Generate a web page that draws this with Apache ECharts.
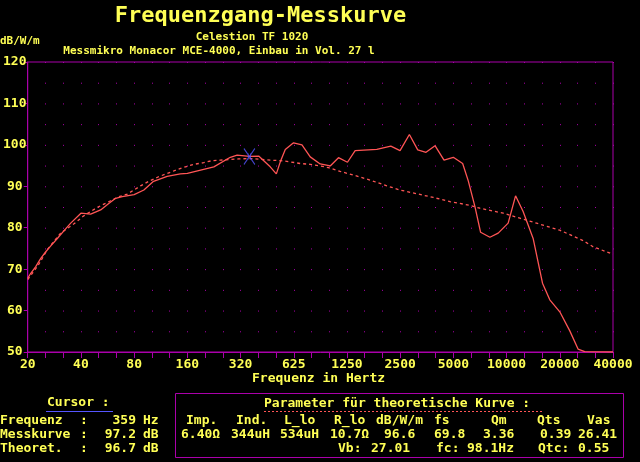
<!DOCTYPE html>
<html><head><meta charset="utf-8">
<script src="https://cdn.jsdelivr.net/npm/echarts@6/dist/echarts.min.js"></script>
<style>html,body{margin:0;padding:0;background:#000;}#c{width:640px;height:462px;}</style>
</head><body><div id="c"></div>
<script>
// ---- data ----
const measFreq = [20, 20.8, 22.2, 23.7, 25.3, 27, 29.4, 32.1, 35, 40, 45.4, 51.7, 57, 62.8, 68.5, 80, 90.8, 103, 123, 146, 160, 226, 280, 306, 359, 405, 471, 510, 537, 573, 638, 712, 793, 903, 1029, 1146, 1288, 1424, 1888, 2266, 2556, 2886, 3218, 3585, 4030, 4532, 5115, 5777, 6216, 6780, 7300, 8240, 9180, 10450, 11510, 12700, 14470, 16350, 17980, 20480, 23330, 25980, 28340, 40960];
const measDb = [67.8, 69.0, 70.6, 72.6, 74.2, 75.6, 77.4, 79.3, 81.1, 83.5, 83.3, 84.3, 85.7, 87.1, 87.5, 88.0, 89.1, 91.2, 92.4, 93.0, 93.1, 94.7, 97.0, 97.5, 97.2, 97.3, 94.7, 93.0, 95.9, 98.9, 100.5, 100.0, 97.1, 95.4, 94.9, 96.9, 95.8, 98.6, 98.9, 99.7, 98.6, 102.5, 98.8, 98.2, 99.8, 96.3, 97.0, 95.5, 91.3, 85.1, 78.9, 77.7, 78.7, 81.1, 87.7, 83.9, 77.4, 66.6, 62.6, 59.7, 55.1, 50.7, 50.1, 50.0];
const theoFreq = [20, 22.9, 25.8, 30.7, 36.7, 41.3, 49, 58.9, 65.6, 73.1, 87, 97.8, 110, 123, 140, 156, 174, 198, 221, 246, 280, 312, 364, 471, 537, 611, 696, 793, 903, 1006, 1171, 1393, 1730, 2151, 2556, 3176, 3943, 4898, 6352, 7236, 9796, 12180, 15130, 20480, 27720, 31580, 40960];
const theoDb = [67.5, 70.9, 74.7, 78.7, 81.0, 82.8, 84.8, 86.5, 87.5, 88.1, 90.1, 91.3, 92.3, 93.1, 94.0, 94.7, 95.3, 95.7, 96.2, 96.3, 96.5, 96.6, 96.7, 96.3, 96.2, 95.9, 95.5, 95.3, 94.9, 94.5, 93.6, 92.7, 91.5, 90.1, 89.1, 88.2, 87.3, 86.3, 85.4, 84.7, 83.5, 82.3, 81.1, 79.4, 76.9, 75.4, 73.6];
const xTickLabels = ['20', '40', '80', '160', '320', '625', '1250', '2500', '5000', '10000', '20000', '40000'];
const cursorPoint = [359, 97.2];
const cursorRows = [['Frequenz', '359', 'Hz'], ['Messkurve', '97.2', 'dB'], ['Theoret.', '96.7', 'dB']];
const paramNames = ['Imp.', 'Ind.', 'L_lo', 'R_lo', 'dB/W/m', 'fs', 'Qm', 'Qts', 'Vas'];
const paramValues = ['6.40Ω', '344uH', '534uH', '10.7Ω', '96.6', '69.8', '3.36', '0.39', '26.41'];
const boxRow = [['Vb:', '27.01'], ['fc:', '98.1Hz'], ['Qtc:', '0.55']];

// ---- styles ----
const YEL = '#ffff55', MAG = '#aa00aa', RED = '#ff5555', BLU = '#5555ff';
const MONO = '"DejaVu Sans Mono", "Liberation Mono", monospace';
const f = (s) => 'bold ' + s + 'px ' + MONO;

function txt(text, x, y, size, align) {
  return { type: 'text', x: x, y: y, silent: true,
    style: { text: text, fill: YEL, font: f(size), align: align || 'left', verticalAlign: 'middle' } };
}

const g = [];
g.push(txt('Frequenzgang-Messkurve', 260.5, 16, 22, 'center'));
g.push(txt('Celestion TF 1020', 252, 37, 11, 'center'));
g.push(txt('Messmikro Monacor MCE-4000, Einbau in Vol. 27 l', 219, 51, 11, 'center'));
g.push(txt('dB/W/m', 0, 41, 11));
g.push(txt('Frequenz in Hertz', 252, 379, 13));
// cursor panel
g.push(txt('Cursor :', 47, 403, 13));
g.push({ type: 'line', silent: true, shape: { x1: 46, y1: 411.5, x2: 113, y2: 411.5 }, style: { stroke: BLU, lineWidth: 1 } });
const rowY = [421, 435, 448.5];
cursorRows.forEach((r, i) => {
  g.push(txt(r[0], 0, rowY[i], 13));
  g.push(txt(':', 80, rowY[i], 13));
  g.push(txt(r[1], 136, rowY[i], 13, 'right'));
  g.push(txt(r[2], 143, rowY[i], 13));
});
// parameter box
g.push({ type: 'rect', silent: true, shape: { x: 175.5, y: 393.5, width: 448, height: 64 }, style: { fill: 'none', stroke: MAG, lineWidth: 1 } });
g.push(txt('Parameter für theoretische Kurve :', 264, 404, 13));
g.push({ type: 'line', silent: true, shape: { x1: 264, y1: 411.5, x2: 543, y2: 411.5 }, style: { stroke: RED, lineWidth: 1, lineDash: [2, 2] } });
const nameX = [186, 236, 284, 334, 376, 434, 491, 537, 587];
const valX = [181, 231, 280, 330, 384, 434, 483, 540, 578];
paramNames.forEach((n, i) => g.push(txt(n, nameX[i], 421, 13)));
paramValues.forEach((v, i) => g.push(txt(v, valX[i], 434.5, 13)));
const brX = [[338, 371], [436, 467], [538, 578]];
boxRow.forEach((p, i) => { g.push(txt(p[0], brX[i][0], 448.5, 13)); g.push(txt(p[1], brX[i][1], 448.5, 13)); });

const chart = echarts.init(document.getElementById('c'), null, { renderer: 'canvas' });
chart.setOption({
  backgroundColor: '#000',
  animation: false,
  grid: { left: 27, top: 62, width: 586, height: 290, show: true, borderColor: MAG, borderWidth: 1, backgroundColor: 'transparent' },
  xAxis: [
    { type: 'log', logBase: 2, min: 20, max: 40960, axisLine: { show: false }, axisTick: { show: false }, axisLabel: { show: false }, splitLine: { show: false } },
    { type: 'value', min: 0, max: 33, interval: 1, position: 'bottom',
      axisLine: { show: true, onZero: false, lineStyle: { color: MAG, width: 1 } },
      axisTick: { show: true, length: 6, lineStyle: { color: MAG } },
      axisLabel: { show: true, color: YEL, fontFamily: MONO, fontWeight: 'bold', fontSize: 13, margin: 6, hideOverlap: false,
        formatter: (v) => (v % 3 === 0 ? xTickLabels[v / 3] : '') },
      splitLine: { show: true, lineStyle: { color: MAG, width: 1, type: [1, 19.714] } } }
  ],
  yAxis: { type: 'value', min: 50, max: 120, interval: 10,
    axisLine: { show: true, onZero: false, lineStyle: { color: MAG } },
    axisTick: { show: true, length: 4, lineStyle: { color: MAG } },
    axisLabel: { color: YEL, fontFamily: MONO, fontWeight: 'bold', fontSize: 13, align: 'center', margin: 13 },
    splitLine: { show: false } },
  series: [
    { type: 'line', xAxisIndex: 0, data: theoFreq.map((x, i) => [x, theoDb[i]]), symbol: 'none', smooth: false,
      lineStyle: { color: RED, width: 1.3, type: [3, 3] }, z: 3 },
    { type: 'line', xAxisIndex: 0, data: measFreq.map((x, i) => [x, measDb[i]]), symbol: 'none',
      lineStyle: { color: RED, width: 1.3 }, z: 4 },
    { type: 'scatter', xAxisIndex: 0, data: [cursorPoint], symbol: 'path://M0,0L10,16M10,0L0,16M4,5L4,11M6,5L6,11', symbolSize: [11, 16],
      itemStyle: { color: 'none', borderColor: BLU, borderWidth: 1.2 }, z: 5 }
  ],
  graphic: g
});
</script></body></html>
